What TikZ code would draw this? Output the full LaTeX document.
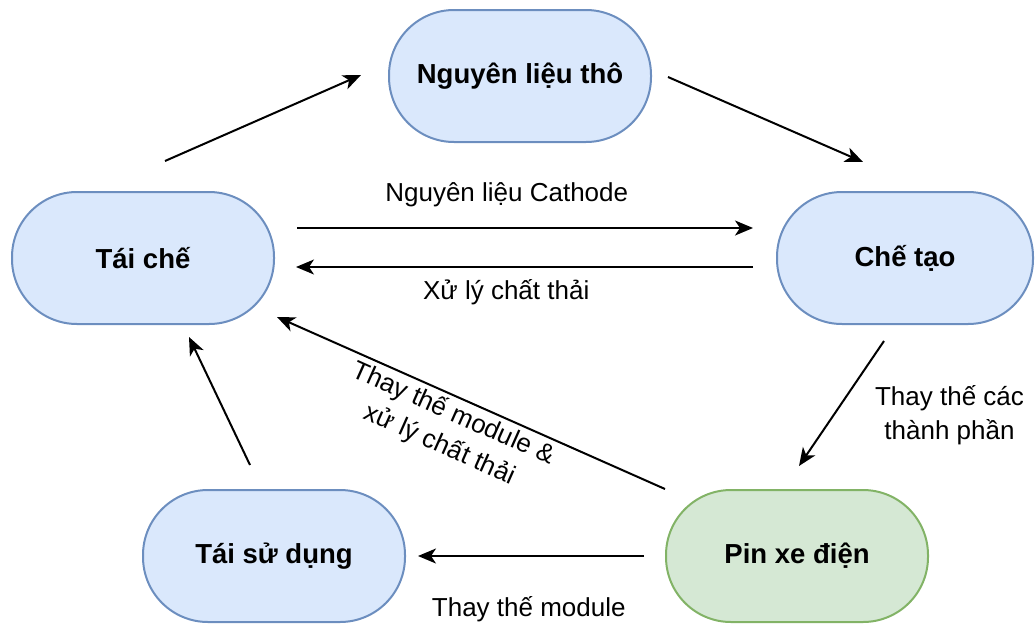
\documentclass[tikz,border=0pt]{standalone}
\usepackage{fontspec}
\setmainfont{Liberation Sans}
\usetikzlibrary{arrows.meta}
\definecolor{blueFill}{HTML}{DAE8FC}
\definecolor{blueLine}{HTML}{6C8EBF}
\definecolor{greenFill}{HTML}{D5E8D4}
\definecolor{greenLine}{HTML}{82B366}

\begin{document}
\begin{tikzpicture}[x=1pt, y=-1pt,
  stage/.style={draw=blueLine, fill=blueFill, line width=2pt, rounded corners=65pt,
    minimum width=262pt, minimum height=132pt, font=\bfseries\fontsize{27.5}{32}\selectfont},
  flow/.style={-{Stealth[length=18pt, width=15pt, inset=5pt]}, line width=2pt},
  lbl/.style={font=\fontsize{26}{34}\selectfont, align=center}]
  \useasboundingbox (0,0) rectangle (1035,624);
  % Stages of the cycle
  \node[stage] (nl) at (520,76) {Nguyên liệu thô};
  \node[stage, minimum width=256pt] (ct) at (905,258) {Chế tạo};
  \node[stage] (tc) at (143,258) {Tái chế};
  \node[stage, draw=greenLine, fill=greenFill] (pin) at (797,556) {Pin xe điện};
  \node[stage] (tsd) at (274,556) {Tái sử dụng};
  % Outer loop
  \draw[flow] ([shift={(22,-30)}]tc.north) -- ([shift={(-27,-1)}]nl.west);
  \draw[flow] ([shift={(16,1)}]nl.east) -- ([shift={(-42,-29)}]ct.north);
  % Between recycling and manufacturing
  \draw[flow] ([shift={(22,-30)}]tc.east) -- node[lbl, pos=0.46, yshift=33pt] {Nguyên liệu Cathode} ([shift={(-23,-30)}]ct.west);
  \draw[flow] ([shift={(-23,9)}]ct.west) -- node[lbl, pos=0.54, yshift=-25pt] {Xử lý chất thải} ([shift={(21,9)}]tc.east);
  % Down to the battery
  \draw[flow] ([shift={(-21,16)}]ct.south) -- node[lbl, pos=0.5, xshift=108pt, yshift=-12pt] {Thay thế các\\thành phần} ([shift={(2,-23)}]pin.north);
  % Battery to reuse
  \draw[flow] ([shift={(-21,0)}]pin.west) -- node[lbl, pos=0.51, yshift=-53pt] {Thay thế module} ([shift={(12,0)}]tsd.east);
  % Reuse back to recycling
  \draw[flow] ([shift={(-24,-24)}]tsd.north) -- ([shift={(46,12)}]tc.south);
  % Battery straight to recycling
  \draw[flow] (pin.north west) -- node[lbl, pos=0.527, xshift=-14pt, yshift=-31pt, rotate=-24] {Thay thế module \&\\xử lý chất thải} ([shift={(2,-8)}]tc.south east);
\end{tikzpicture}
\end{document}
